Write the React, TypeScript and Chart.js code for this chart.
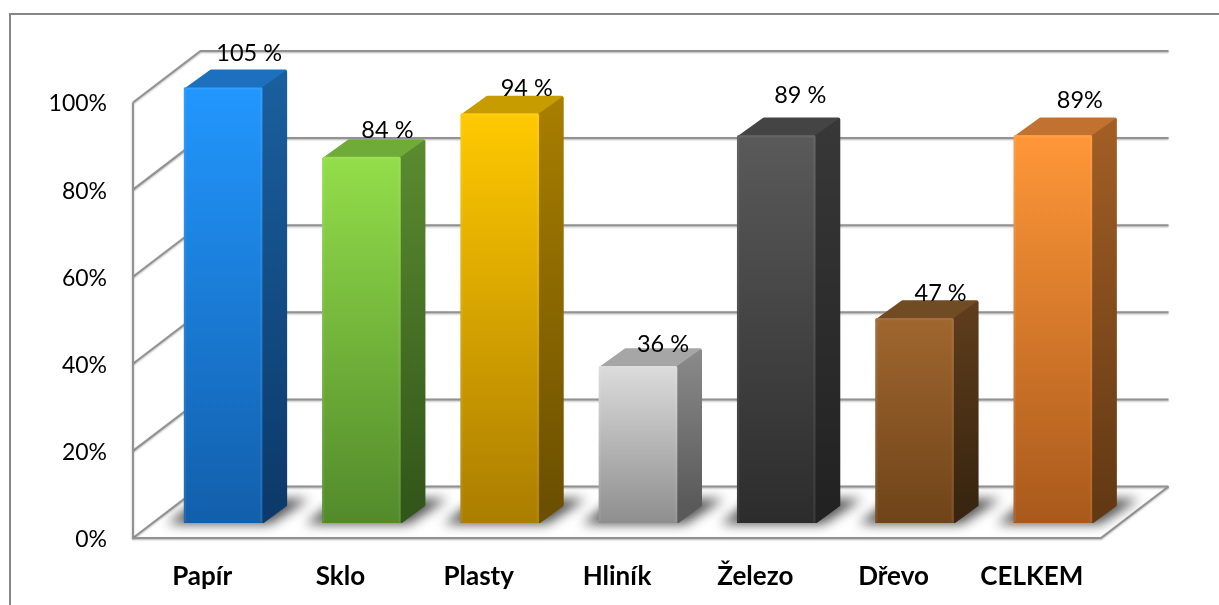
import React, { useEffect, useRef } from "react";
import { Chart, registerables } from "chart.js";

Chart.register(...registerables);

const categories = ["Papír", "Sklo", "Plasty", "Hliník", "Železo", "Dřevo", "CELKEM"];
const values = [105, 84, 94, 36, 89, 47, 89];
const valueLabels = ["105 %", "84 %", "94 %", "36 %", "89 %", "47 %", "89%"];
const axisMax = 100;
const axisStep = 20;

// styling, per bar
const frontTop = ["#2297ff", "#93de4a", "#ffc900", "#dcdcdc", "#5a5a5a", "#a0662f", "#ff9738"];
const frontBottom = ["#125fab", "#528a2b", "#ab7d00", "#8e8e8e", "#2c2c2c", "#6f4419", "#a9591c"];
const sideTop = ["#1a609f", "#5b8c30", "#a97f00", "#8b8b8b", "#383838", "#5f3e1c", "#a35f25"];
const sideBottom = ["#0c3a6a", "#33561a", "#6c5000", "#5a5a5a", "#222222", "#392510", "#633914"];
const topFace = ["#1c70bd", "#70aa38", "#c79c00", "#a6a6a6", "#444444", "#714b23", "#c27230"];
const labelShiftX = [26, 26, 27, 25, 24, 26, 27];
const labelLift = [34.5, 27, 25, 22, 40, 25, 35];

const FONT = "Lato";
const DEPTH_X = 25;
const DEPTH_Y = 18;
const FRONT_DX = -21;
const FRONT_DY = 15;
const BACK_DX = 46.5;
const BACK_DY = -36.5;
const LINE = "#929292";

const chart3d = {
  id: "chart3d",
  beforeDraw(chart: any) {
    const { ctx, width, height } = chart;
    ctx.save();
    ctx.strokeStyle = "#868686";
    ctx.lineWidth = 2;
    ctx.beginPath();
    ctx.moveTo(10, height);
    ctx.lineTo(10, 14);
    ctx.lineTo(width, 14);
    ctx.stroke();
    ctx.restore();
  },
  beforeDatasetsDraw(chart: any) {
    const { ctx, chartArea, scales } = chart;
    const y = scales.y;
    const fl = chartArea.left + FRONT_DX;
    const fr = chartArea.right + FRONT_DX;
    const bl = chartArea.left + BACK_DX;
    const br = chartArea.right + BACK_DX;
    ctx.save();
    ctx.lineWidth = 2;
    ctx.strokeStyle = LINE;
    ctx.lineJoin = "miter";
    ctx.shadowColor = "rgba(0,0,0,0.3)";
    ctx.shadowBlur = 2;
    ctx.shadowOffsetY = 1;
    y.ticks.forEach((t: any) => {
      const p = y.getPixelForValue(t.value);
      ctx.beginPath();
      ctx.moveTo(fl, p + FRONT_DY);
      ctx.lineTo(bl, p + BACK_DY);
      ctx.lineTo(br, p + BACK_DY);
      ctx.stroke();
    });
    const p0 = y.getPixelForValue(0);
    const pMax = y.getPixelForValue(axisMax);
    ctx.beginPath();
    ctx.moveTo(fl, pMax + FRONT_DY);
    ctx.lineTo(fl, p0 + FRONT_DY);
    ctx.lineTo(fr, p0 + FRONT_DY);
    ctx.lineTo(br, p0 + BACK_DY);
    ctx.stroke();
    ctx.restore();

    const meta = chart.getDatasetMeta(0);
    meta.data.forEach((bar: any) => {
      const x0 = bar.x - bar.width / 2;
      const x1 = bar.x + bar.width / 2;
      const base = bar.base;
      ctx.save();
      ctx.filter = "blur(6px)";
      ctx.fillStyle = "rgba(50,50,50,0.85)";
      ctx.beginPath();
      ctx.moveTo(x0 - 17, base + 1);
      ctx.lineTo(x1 + 8, base + 1);
      ctx.lineTo(x1 + 47, base - 24);
      ctx.lineTo(x0 + 16, base - 24);
      ctx.closePath();
      ctx.fill();
      ctx.restore();
    });

    meta.data.forEach((bar: any, i: number) => {
      const x0 = bar.x - bar.width / 2;
      const x1 = bar.x + bar.width / 2;
      const top = Math.max(bar.y, chartArea.top);
      const base = bar.base;
      ctx.save();
      ctx.lineJoin = "round";
      const g = ctx.createLinearGradient(0, top - DEPTH_Y, 0, base - DEPTH_Y);
      g.addColorStop(0, sideTop[i]);
      g.addColorStop(1, sideBottom[i]);
      ctx.fillStyle = topFace[i];
      ctx.strokeStyle = topFace[i];
      ctx.lineWidth = 4;
      ctx.beginPath();
      ctx.moveTo(x0 + 2, top + 2);
      ctx.lineTo(x0 + DEPTH_X + 2, top - DEPTH_Y + 2);
      ctx.lineTo(x1 + DEPTH_X - 2, top - DEPTH_Y + 2);
      ctx.lineTo(x1, top + 2);
      ctx.closePath();
      ctx.fill();
      ctx.stroke();
      ctx.fillStyle = g;
      ctx.strokeStyle = g;
      ctx.lineWidth = 3;
      ctx.beginPath();
      ctx.moveTo(x1 + 1, top + 1);
      ctx.lineTo(x1 + DEPTH_X - 1.5, top - DEPTH_Y + 3);
      ctx.lineTo(x1 + DEPTH_X - 1.5, base - DEPTH_Y);
      ctx.lineTo(x1 + 1, base - 1.5);
      ctx.closePath();
      ctx.fill();
      ctx.stroke();
      ctx.restore();
    });
  },
  afterDatasetsDraw(chart: any) {
    const { ctx, chartArea } = chart;
    const meta = chart.getDatasetMeta(0);
    ctx.save();
    meta.data.forEach((bar: any) => {
      const x0 = bar.x - bar.width / 2;
      const x1 = bar.x + bar.width / 2;
      const top = Math.max(bar.y, chartArea.top);
      ctx.strokeStyle = "rgba(255,255,255,0.07)";
      ctx.lineWidth = 2;
      ctx.beginPath();
      ctx.moveTo(x0 + 1, bar.base - 1);
      ctx.lineTo(x0 + 1, top + 1);
      ctx.lineTo(x1 - 1, top + 1);
      ctx.lineTo(x1 - 1, bar.base - 1);
      ctx.stroke();
    });
    ctx.fillStyle = "#000";
    ctx.font = `23.5px ${FONT}`;
    ctx.textAlign = "center";
    ctx.textBaseline = "middle";
    meta.data.forEach((bar: any, i: number) => {
      const top = Math.max(bar.y, chartArea.top);
      ctx.fillText(valueLabels[i], bar.x + labelShiftX[i], top - labelLift[i]);
    });
    ctx.restore();
  },
};

export default function App() {
  const ref = useRef<HTMLCanvasElement>(null);
  useEffect(() => {
    const chart = new Chart(ref.current as HTMLCanvasElement, {
      type: "bar",
      plugins: [chart3d],
      data: {
        labels: categories,
        datasets: [
          {
            data: values,
            barThickness: 78,
            borderRadius: 2,
            backgroundColor: (c: any) => {
              const area = c.chart.chartArea;
              const i = c.dataIndex;
              if (!area || i === undefined) return frontTop[0];
              const s = c.chart.scales.y;
              const top = s.getPixelForValue(Math.min(values[i], axisMax));
              const g = c.chart.ctx.createLinearGradient(0, top, 0, s.getPixelForValue(0));
              g.addColorStop(0, frontTop[i]);
              g.addColorStop(1, frontBottom[i]);
              return g;
            },
          },
        ],
      },
      options: {
        responsive: false,
        animation: false,
        layout: { padding: { left: 0, top: 87.5, right: 97, bottom: 0 } },
        plugins: { legend: { display: false }, tooltip: { enabled: false } },
        scales: {
          x: {
            grid: { display: false, drawTicks: false },
            border: { display: false },
            afterFit: (s: any) => {
              s.height = 82;
            },
            ticks: {
              autoSkip: false,
              maxRotation: 0,
              padding: 38,
              labelOffset: FRONT_DX,
              color: "#000",
              font: { family: FONT, size: 26, weight: "bold" },
            },
          },
          y: {
            min: 0,
            max: axisMax,
            grid: { display: false, drawTicks: false },
            border: { display: false },
            afterFit: (s: any) => {
              s.width = 154;
            },
            ticks: {
              stepSize: axisStep,
              padding: 47,
              labelOffset: 16.5,
              color: "#000",
              font: { family: FONT, size: 23 },
              callback: (v: any) => `${v}%`,
            },
          },
        },
      },
    } as any);
    return () => chart.destroy();
  }, []);
  return (
    <div style={{ position: "absolute", left: 0, top: 0 }}>
      <canvas ref={ref} width={1219} height={605} style={{ display: "block" }} />
    </div>
  );
}
